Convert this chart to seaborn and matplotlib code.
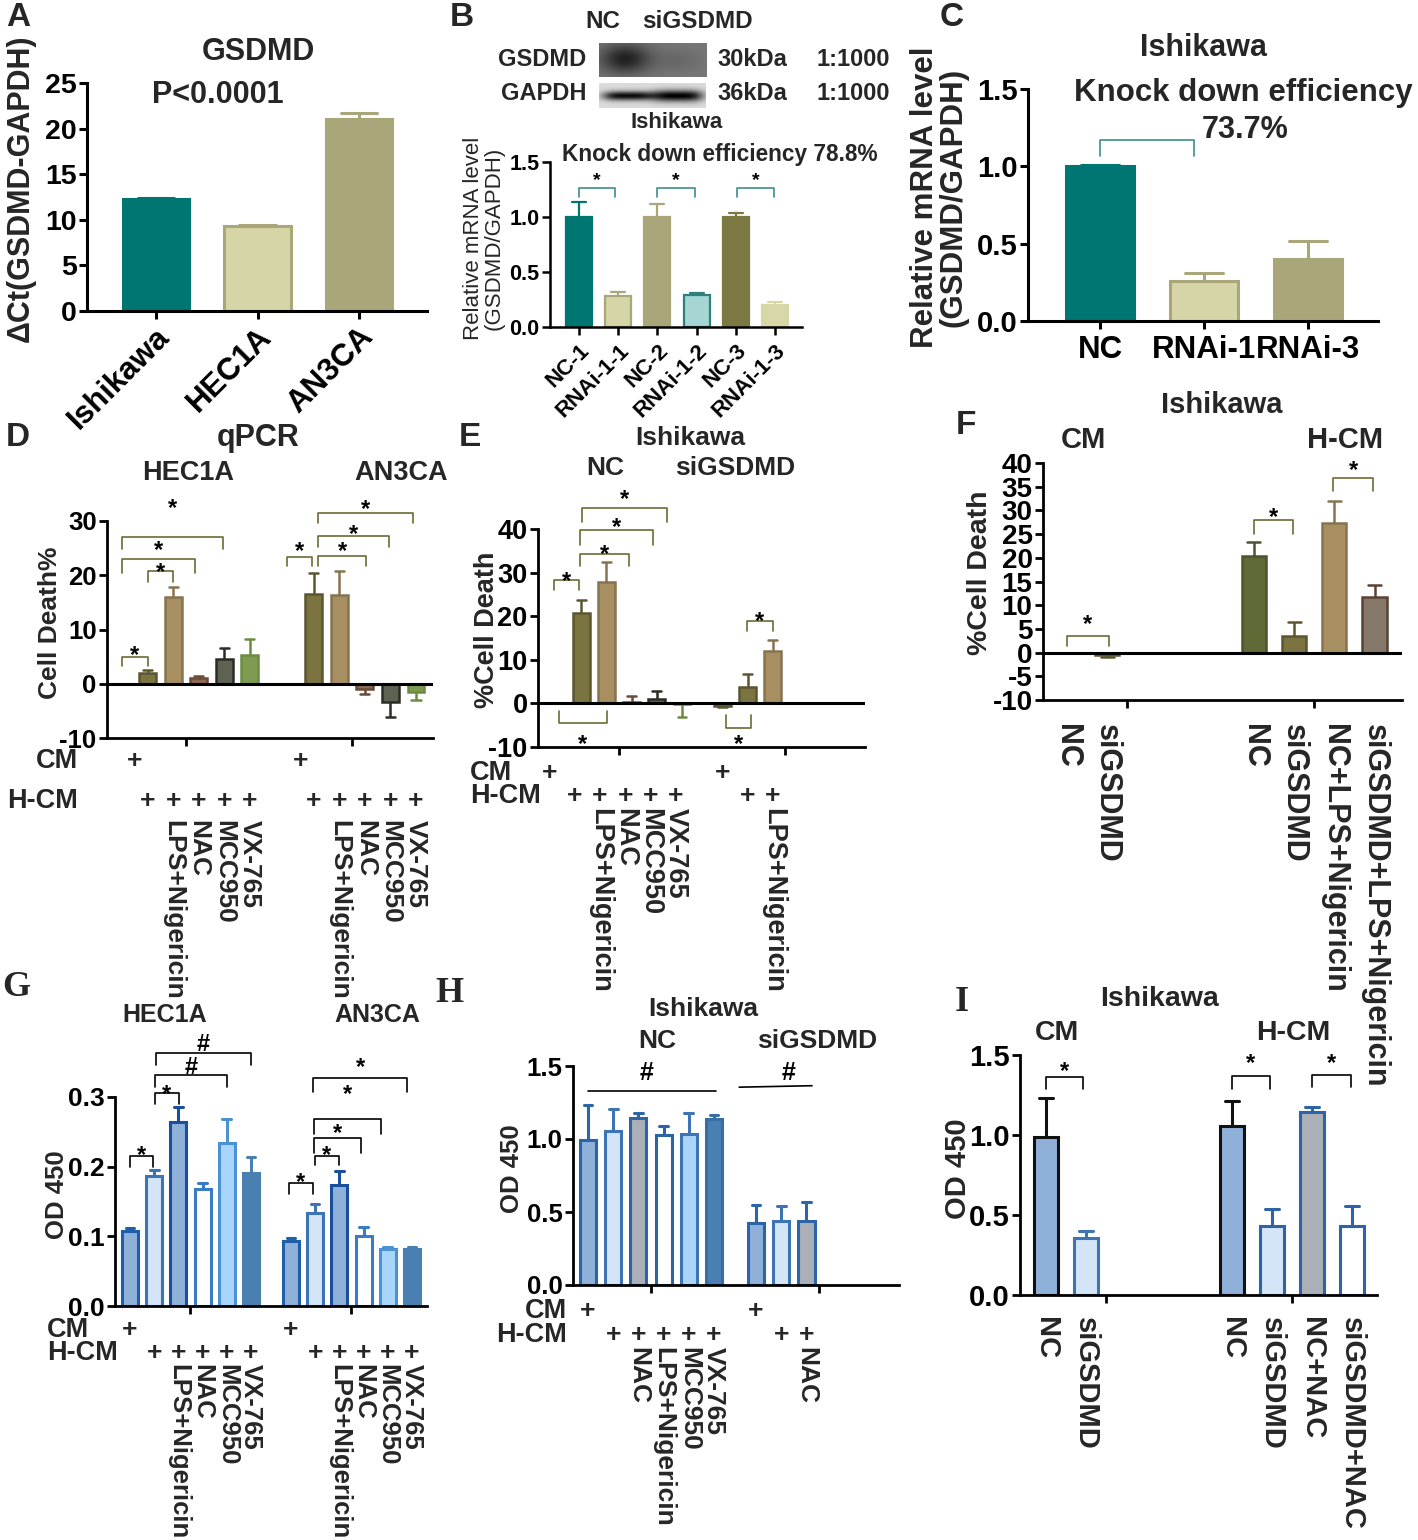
import numpy as np
import pandas as pd
import seaborn as sns
from matplotlib import pyplot as plt
from matplotlib import transforms

sns.set_theme(style="ticks")
plt.rcParams['font.family'] = ['Liberation Sans', 'DejaVu Sans']
plt.rcParams['font.weight'] = 'bold'
plt.rcParams['axes.unicode_minus'] = False

# ---------------- data ----------------
# A
a_cells = ["Ishikawa", "HEC1A", "AN3CA"]
a_ct = [12.3, 9.3, 21.0]
a_sem = [0.12, 0.1, 0.7]

# B
b_samples = ["NC-1", "RNAi-1-1", "NC-2", "RNAi-1-2", "NC-3", "RNAi-1-3"]
b_mrna = [1.0, 0.28, 1.0, 0.29, 1.0, 0.20]
b_sem = [0.14, 0.04, 0.12, 0.015, 0.04, 0.03]

# C
c_samples = ["NC", "RNAi-1", "RNAi-3"]
c_mrna = [1.0, 0.26, 0.40]
c_sem = [0.008, 0.05, 0.12]

# D (qPCR, cell death %)
treatments = ["", "", "LPS+Nigericin", "NAC", "MCC950", "VX-765"]
cm_row = ["+", "", "", "", "", ""]
hcm_row = ["", "+", "+", "+", "+", "+"]
d_hec1a = [0.0, 1.9, 15.9, 1.1, 4.6, 5.3]
d_hec1a_sem = [0.0, 0.7, 1.9, 0.3, 1.9, 2.9]
d_an3ca = [0.0, 16.6, 16.3, -0.95, -3.4, -1.6]
d_an3ca_sem = [0.0, 3.9, 4.5, 0.85, 2.8, 1.4]

# E (Ishikawa, % cell death)
e_nc = [0.0, 20.7, 27.8, 0.4, 0.9, -0.2]
e_nc_sem = [0.0, 3.1, 4.7, 1.3, 1.9, 3.0]
e_si = [-0.6, 3.7, 12.1]
e_si_sem = [0.3, 3.1, 2.4]
e_si_treat = ["", "", "LPS+Nigericin"]
e_si_cm = ["+", "", ""]
e_si_hcm = ["", "+", "+"]

# F
f_cm_groups = ["NC", "siGSDMD"]
f_cm = [0.0, -0.6]
f_cm_sem = [0.0, 0.3]
f_hcm_groups = ["NC", "siGSDMD", "NC+LPS+Nigericin", "siGSDMD+LPS+Nigericin"]
f_hcm = [20.3, 3.5, 27.3, 11.8]
f_hcm_sem = [3.1, 3.0, 4.6, 2.5]

# G (OD 450)
g_hec1a = [0.108, 0.186, 0.264, 0.168, 0.234, 0.191]
g_hec1a_sem = [0.004, 0.009, 0.021, 0.008, 0.035, 0.023]
g_an3ca = [0.093, 0.134, 0.173, 0.100, 0.082, 0.082]
g_an3ca_sem = [0.004, 0.013, 0.021, 0.013, 0.003, 0.002]

# H
h_treat = ["", "", "NAC", "LPS+Nigericin", "MCC950", "VX-765"]
h_nc = [0.993, 1.056, 1.146, 1.024, 1.037, 1.134]
h_nc_sem = [0.24, 0.15, 0.032, 0.066, 0.14, 0.029]
h_si_treat = ["", "", "NAC"]
h_si = [0.427, 0.439, 0.439]
h_si_sem = [0.122, 0.105, 0.127]

# I
i_cm_groups = ["NC", "siGSDMD"]
i_cm = [0.989, 0.354]
i_cm_sem = [0.244, 0.048]
i_hcm_groups = ["NC", "siGSDMD", "NC+NAC", "siGSDMD+NAC"]
i_hcm = [1.057, 0.434, 1.144, 0.434]
i_hcm_sem = [0.153, 0.105, 0.032, 0.125]

# significance brackets: (x1, x2, top, tip, mark_y, mark)
b_brackets = [(0, 0.92, 1.26, 1.18, 1.39, "*"), (2, 2.95, 1.26, 1.18, 1.39, "*"),
              (4.03, 4.97, 1.26, 1.18, 1.39, "*")]
d_brackets = [(0, 1, 4.9, 3.2, 6.5, "*"), (1, 2, 20.7, 18.8, 21.9, "*"),
              (0, 2.85, 23.0, 20.5, 25.9, "*"), (0, 3.94, 27.0, 24.9, 33.6, "*"),
              (6.46, 7.44, 23.4, 21.7, 25.7, "*"), (7.67, 9.54, 23.6, 21.7, 25.7, "*"),
              (7.67, 10.44, 27.2, 25.2, 28.9, "*"), (7.67, 11.37, 31.5, 29.7, 33.5, "*")]
e_brackets = [(-0.08, 0.91, 28.2, 25.9, 29.5, "*"), (0.95, 2.9, 34.2, 31.6, 35.9, "*"),
              (0.95, 3.85, 39.7, 36.3, 41.9, "*"), (1.03, 4.4, 44.9, 41.5, 48.3, "*"),
              (0.12, 2.02, -4.4, -1.7, -7.7, "*"), (7.58, 8.6, 18.8, 16.5, 20.5, "*"),
              (6.75, 7.74, -5.6, -2.7, -7.7, "*")]
f_brackets = [(0, 1.04, 3.5, 1.4, 7.4, "*"), (4.65, 5.62, 28.0, 25.0, 30.1, "*"),
              (6.62, 7.61, 36.9, 34.0, 40.0, "*")]
g_brackets = [(0, 0.95, 0.215, 0.200, 0.227, "*"), (1.03, 2.02, 0.306, 0.290, 0.314, "*"),
              (1.03, 4.0, 0.331, 0.314, 0.345, "#"), (1.07, 5.0, 0.363, 0.346, 0.378, "#"),
              (6.57, 7.56, 0.177, 0.161, 0.1875, "*"), (7.64, 8.64, 0.216, 0.202, 0.227, "*"),
              (7.6, 9.55, 0.241, 0.219, 0.258, "*"), (7.6, 10.37, 0.269, 0.247, 0.314, "*"),
              (7.56, 11.45, 0.327, 0.307, 0.352, "*")]
i_brackets = [(0, 0.93, 1.36, 1.285, 1.44, "*"), (4.65, 5.6, 1.37, 1.29, 1.49, "*"),
              (6.65, 7.63, 1.372, 1.297, 1.49, "*")]

# ---------------- colours ----------------
TEAL = "#007672"
OLIVE_LINE = "#6b6b35"
A_FACE = [TEAL, "#d6d5a8", "#a9a77a"]
A_EDGE = [TEAL, "#a9a77a", "#a9a77a"]
B_FACE = [TEAL, "#d6d5a8", "#a9a77a", "#a5d6d3", "#7b7841", "#d8d7a8"]
B_EDGE = [TEAL, "#a9a77a", "#a9a77a", "#2f7f7c", "#7b7841", "#d8d7a8"]
D_FACE = ["#7b7441", "#7b7441", "#a88f62", "#8d6a52", "#5e6252", "#7f9b52"]
D_EDGE = ["#5b5630", "#5b5630", "#87744f", "#6b4a38", "#2a2d24", "#6c8a42"]
F_FACE = ["#5f6a36", "#7b7441", "#5f6a36", "#7b7441", "#a88f62", "#877969"]
F_EDGE = ["#4b5530", "#5b5630", "#4b5530", "#5b5630", "#87744f", "#5a4232"]
G_FACE = ["#8fb0d9", "#d5e5f8", "#8fb0d9", "#ffffff", "#a9d5fa", "#4a7fb1"]
G_EDGE = ["#1f5ea8", "#3d74b4", "#1b4f9c", "#3a7bc4", "#4b92d4", "#4a7fb1"]
H_FACE = ["#8fb0d9", "#d5e5f8", "#abb0b8", "#ffffff", "#a9d5fa", "#4a7fb1"]
H_EDGE = ["#2d64a8", "#3d74b4", "#2d64a8", "#2d64a8", "#3d74b4", "#3a6ca5"]
I_FACE = ["#8fb0d9", "#d5e5f8", "#8fb0d9", "#d5e5f8", "#abb0b8", "#ffffff"]
I_EDGE = ["#111111", "#3d74b4", "#111111", "#2d64a8", "#2d64a8", "#2d64a8"]
SERIF = ['Liberation Serif', 'DejaVu Serif']

W, H = 1418, 1540
fig = plt.figure(figsize=(W / 100, H / 100), dpi=100)


def fy(y):
    return 1 - y / H


def ftext(x, y, s, fs, **kw):
    kw.setdefault('ha', 'center')
    kw.setdefault('va', 'center')
    return fig.text(x / W, fy(y), s, fontsize=fs, **kw)


def add(l, t, r, b):
    return fig.add_axes([l / W, fy(b), (r - l) / W, (b - t) / H])


def bars(ax, pos, vals, sem, faces, edges, width, lw):
    n0 = len(ax.patches)
    df = pd.DataFrame({'pos': pos, 'val': vals})
    sns.barplot(data=df, x='pos', y='val', native_scale=True, width=width,
                errorbar=None, color='white', linewidth=lw, ax=ax)
    for p, fc, ec in zip(ax.patches[n0:], faces, edges):
        p.set_facecolor(fc)
        p.set_edgecolor(ec)
    half = width * 0.27
    for x, v, e, ec in zip(pos, vals, sem, edges):
        if e <= 0:
            continue
        end = v - e if v < 0 else v + e
        ax.plot([x, x], [v, end], color=ec, lw=lw, solid_capstyle='butt')
        ax.plot([x - half, x + half], [end, end], color=ec, lw=lw)


def finish(ax, l, r, origin, unit, ylim, yticks, ylabs, fs, xticks, lw=2.0):
    ax.set_xlim((l - origin) / unit, (r - origin) / unit)
    ax.set_ylim(*ylim)
    ax.set_yticks(yticks)
    ax.set_yticklabels(ylabs, fontsize=fs, fontweight='bold')
    ax.set_xticks(xticks)
    ax.set_xticklabels([])
    ax.set_xlabel('')
    ax.set_ylabel('')
    sns.despine(ax=ax)
    for s in ('left', 'bottom'):
        ax.spines[s].set_linewidth(lw)
        ax.spines[s].set_color('black')
    ax.tick_params(length=6, width=lw, pad=1.5, color='black', labelcolor='black')
    ax.patch.set_alpha(0)


def mark(ax, x, y, s, fs, color='black'):
    k = 0.58 if s == '*' else 0.36
    tr = transforms.offset_copy(ax.transData, fig=fig, y=-k * fs, units='points')
    ax.text(x, y, s, transform=tr, ha='center', va='baseline', fontsize=fs,
            color=color, clip_on=False)


def brackets(ax, specs, color, fs, lw=1.2):
    for x1, x2, top, tip, my, s in specs:
        ax.plot([x1, x1, x2, x2], [tip, top, top, tip], color=color, lw=lw, clip_on=False)
        mark(ax, (x1 + x2) / 2, my, s, fs)


def rows(ax, xs, cm, hcm, treat, y_cm, y_hcm, y_lab, fs, tfs, dx=0.0, cm_dx=0.0):
    tr = transforms.blended_transform_factory(ax.transData, fig.transFigure)
    for x, c, h, t in zip(xs, cm, hcm, treat):
        if c:
            fig.text(x + dx + cm_dx, fy(y_cm), c, transform=tr, ha='center', va='center', fontsize=fs)
        if h:
            fig.text(x + dx, fy(y_hcm), h, transform=tr, ha='center', va='center', fontsize=fs)
        if t:
            fig.text(x + dx, fy(y_lab), t, transform=tr, rotation=270, ha='center', va='top', fontsize=tfs)


def vlabels(ax, xs, labels, y_top, fs):
    tr = transforms.blended_transform_factory(ax.transData, fig.transFigure)
    for x, t in zip(xs, labels):
        fig.text(x, fy(y_top), t, transform=tr, rotation=270, ha='center', va='top', fontsize=fs)


def blot(l, t, r, b, bg, bands):
    ax = add(l, t, r, b)
    yy, xx = np.mgrid[0:40, 0:120]
    yy = yy / 40.0
    xx = xx / 120.0
    img = np.full(yy.shape, bg)
    for cx, cy, sx, sy, depth, pw in bands:
        img = img - depth * np.exp(-np.abs((xx - cx) / sx) ** pw / 2 - ((yy - cy) / sy) ** 2 / 2)
    ax.imshow(np.clip(img, 0, 1), cmap='gray', vmin=0, vmax=1, aspect='auto', interpolation='bilinear')
    ax.set_axis_off()


def shift_labels(ax, dx_px, dy_px=0):
    for lab in ax.get_xticklabels():
        lab.set_transform(lab.get_transform()
                          + transforms.ScaledTranslation(dx_px / 100, -dy_px / 100, fig.dpi_scale_trans))


DEC = ['0.0', '0.5', '1.0', '1.5']

# ---------------- A ----------------
axA = add(87, 83, 427, 311)
a_pos = np.arange(3)
bars(axA, a_pos, a_ct, a_sem, A_FACE, A_EDGE, 0.66, 2.2)
finish(axA, 87, 427, 156, 101.5, (0, 25), [0, 5, 10, 15, 20, 25],
       ['0', '5', '10', '15', '20', '25'], 20.5, a_pos, lw=2.2)
axA.set_xticklabels(a_cells, rotation=45, ha='right', rotation_mode='anchor', fontsize=22.5)
shift_labels(axA, -1)
ftext(21, 188, "ΔCt(GSDMD-GAPDH)", 22, rotation=90)
ftext(258, 52, "GSDMD", 22)
ftext(218, 95, "P<0.0001", 22)
ftext(18, 17, "A", 24)

# ---------------- B ----------------
blot(599, 43, 707, 77, 0.47, [(0.24, 0.45, 0.16, 0.3, 0.34, 2), (0.72, 0.5, 0.15, 0.25, 0.06, 2)])
blot(599, 83, 706, 108, 0.86, [(0.27, 0.5, 0.2, 0.13, 0.82, 4), (0.73, 0.5, 0.2, 0.16, 0.86, 4)])
ftext(462, 18, "B", 24)
ftext(603, 22, "NC", 17.5)
ftext(697, 22, "siGSDMD", 17.5)
ftext(586, 59, "GSDMD", 17, ha='right')
ftext(586, 93, "GAPDH", 17, ha='right')
ftext(717, 59, "30kDa", 17, ha='left')
ftext(717, 93, "36kDa", 17, ha='left')
ftext(816, 59, "1:1000", 17, ha='left')
ftext(816, 93, "1:1000", 17, ha='left')
ftext(677, 122, "Ishikawa", 16)
ftext(720, 155, "Knock down efficiency 78.8%", 16.3)

axB = add(550, 162, 802, 327)
b_pos = np.arange(6)
bars(axB, b_pos, b_mrna, b_sem, B_FACE, B_EDGE, 0.66, 1.6)
finish(axB, 550, 802, 579, 39.2, (0, 1.5), [0, 0.5, 1.0, 1.5], DEC, 15.5, b_pos, lw=1.8)
axB.set_xticklabels(b_samples, rotation=45, ha='right', rotation_mode='anchor', fontsize=16)
shift_labels(axB, 0, 3)
brackets(axB, b_brackets, "#3d8f8c", 14)
ftext(484, 238, "Relative mRNA level\n(GSDMD/GAPDH)", 16, rotation=90,
      fontweight='normal', linespacing=1.0, multialignment='center')

# ---------------- C ----------------
axC = add(1028, 89, 1378, 321)
c_pos = np.arange(3)
bars(axC, c_pos, c_mrna, c_sem, A_FACE, A_EDGE, 0.66, 2.2)
finish(axC, 1028, 1378, 1100, 104, (0, 1.5), [0, 0.5, 1.0, 1.5], DEC, 21, c_pos, lw=2.2)
axC.set_xticklabels(c_samples, fontsize=22.5)
axC.tick_params(axis='x', pad=4)
axC.plot([0, 0, 0.9, 0.9], [1.07, 1.17, 1.17, 1.07], color="#3d8f8c", lw=1.2, clip_on=False)
ftext(952, 18, "C", 24)
ftext(1204, 48, "Ishikawa", 22)
ftext(1243, 93, "Knock down efficiency", 22.5)
ftext(1245, 130, "73.7%", 22)
ftext(939, 197, "Relative mRNA level\n(GSDMD/GAPDH)", 22.5, rotation=90,
      linespacing=0.95, multialignment='center')

# ---------------- D ----------------
six = np.arange(6)
d_pos = np.r_[six, six + 6.5]
axD = add(107, 521, 433, 738)
bars(axD, d_pos, d_hec1a + d_an3ca, d_hec1a_sem + d_an3ca_sem, D_FACE * 2, D_EDGE * 2, 0.66, 1.8)
axD.axhline(0, color='black', lw=2.2)
finish(axD, 107, 433, 122, 25.57, (-10, 30), [-10, 0, 10, 20, 30],
       ['-10', '0', '10', '20', '30'], 18.5, [2.5, 9.0])
brackets(axD, d_brackets, OLIVE_LINE, 17)
rows(axD, d_pos, cm_row * 2, hcm_row * 2, treatments * 2, 761, 801, 820, 19, 19, cm_dx=0.5)
ftext(78, 761, "CM", 19.5, ha='right')
ftext(78, 801, "H-CM", 19.5, ha='right')
ftext(50, 623, "Cell Death%", 19, rotation=90)
ftext(18, 438, "D", 24)
ftext(258, 438, "qPCR", 22)
ftext(188, 473, "HEC1A", 19.5)
ftext(401, 473, "AN3CA", 19.5)

# ---------------- E ----------------
e_pos = np.r_[six, np.arange(3) + 6.6]
axE = add(538, 529, 865, 747)
bars(axE, e_pos, e_nc + e_si, e_nc_sem + e_si_sem, D_FACE + D_FACE[:3], D_EDGE + D_EDGE[:3], 0.66, 1.8)
axE.axhline(0, color='black', lw=2.2)
finish(axE, 538, 865, 556, 25.2, (-10, 40), [-10, 0, 10, 20, 30, 40],
       ['-10', '0', '10', '20', '30', '40'], 19.5, [2.5, 9.1])
brackets(axE, e_brackets, OLIVE_LINE, 17)
rows(axE, e_pos[:6], cm_row, hcm_row, treatments, 773, 796, 808, 19, 19.5, dx=-0.25)
rows(axE, e_pos[6:], e_si_cm, e_si_hcm, e_si_treat, 773, 796, 808, 19, 19.5)
ftext(470, 773, "CM", 19.5, ha='left')
ftext(470, 796, "H-CM", 19.5, ha='left')
ftext(487, 630, "%Cell Death", 19.5, rotation=90)
ftext(470, 438, "E", 24)
ftext(690, 438, "Ishikawa", 19)
ftext(605, 468, "NC", 19)
ftext(735, 468, "siGSDMD", 19)

# ---------------- F ----------------
f_pos = np.r_[np.arange(2), np.arange(4) + 4.65]
axF = add(1043, 463, 1402, 700)
bars(axF, f_pos, f_cm + f_hcm, f_cm_sem + f_hcm_sem, F_FACE, F_EDGE, 0.6, 1.8)
axF.axhline(0, color='black', lw=2.2)
finish(axF, 1043, 1402, 1067, 40.2, (-10, 40), list(range(-10, 41, 5)),
       [str(v) for v in range(-10, 41, 5)], 20, [1.5, 6.15])
brackets(axF, f_brackets, OLIVE_LINE, 17)
vlabels(axF, f_pos, f_cm_groups + f_hcm_groups, 724, 22)
ftext(980, 573, "%Cell Death", 20.5, rotation=90)
ftext(966, 425, "F", 24)
ftext(1222, 405, "Ishikawa", 21)
ftext(1083, 440, "CM", 21)
ftext(1345, 440, "H-CM", 21)

# ---------------- G ----------------
g_pos = np.r_[six, six + 6.65]
axG = add(115, 1097, 427, 1306)
bars(axG, g_pos, g_hec1a + g_an3ca, g_hec1a_sem + g_an3ca_sem, G_FACE * 2, G_EDGE * 2, 0.66, 2.2)
finish(axG, 115, 427, 130, 24.2, (0, 0.3), [0, 0.1, 0.2, 0.3],
       ['0.0', '0.1', '0.2', '0.3'], 19, [2.5, 9.15])
brackets(axG, g_brackets, 'black', 17)
rows(axG, g_pos, cm_row * 2, hcm_row * 2, treatments * 2, 1330, 1353, 1364, 19, 18.5)
ftext(47, 1330, "CM", 19.5, ha='left')
ftext(47, 1353, "H-CM", 19.5, ha='left')
ftext(57, 1195, "OD 450", 18.5, rotation=90)
ftext(16, 987, "G", 26, family=SERIF)
ftext(165, 1015, "HEC1A", 18)
ftext(377, 1015, "AN3CA", 18)

# ---------------- H ----------------
h_pos = np.r_[six, np.arange(3) + 6.67]
axH = add(573, 1066, 899, 1285)
bars(axH, h_pos, h_nc + h_si, h_nc_sem + h_si_sem, H_FACE + H_FACE[:3], H_EDGE + H_EDGE[:3], 0.64, 2.2)
finish(axH, 573, 899, 588, 25.2, (0, 1.5), [0, 0.5, 1.0, 1.5], DEC, 18.5, [2.5, 9.17])
axH.plot([0, 5.08], [1.329, 1.329], color='black', lw=1.2, clip_on=False)
axH.plot([6.0, 8.89], [1.355, 1.365], color='black', lw=1.2, clip_on=False)
mark(axH, 2.34, 1.463, "#", 18)
mark(axH, 7.94, 1.463, "#", 18)
rows(axH, h_pos[:6], cm_row, hcm_row, h_treat, 1311, 1335, 1347, 19, 19)
rows(axH, h_pos[6:], e_si_cm, e_si_hcm, h_si_treat, 1311, 1335, 1347, 19, 19)
ftext(567, 1311, "CM", 19.5, ha='right')
ftext(567, 1335, "H-CM", 19.5, ha='right')
ftext(512, 1169, "OD 450", 18.5, rotation=90)
ftext(449, 993, "H", 26, family=SERIF)
ftext(703, 1009, "Ishikawa", 19)
ftext(657, 1041, "NC", 19)
ftext(817, 1041, "siGSDMD", 19)

# ---------------- I ----------------
i_pos = np.r_[np.arange(2), np.arange(4) + 4.65]
axI = add(1020, 1055, 1377, 1295)
bars(axI, i_pos, i_cm + i_hcm, i_cm_sem + i_hcm_sem, I_FACE, I_EDGE, 0.62, 2.2)
finish(axI, 1020, 1377, 1046, 40, (0, 1.5), [0, 0.5, 1.0, 1.5], DEC, 21, [1.5, 6.15])
brackets(axI, i_brackets, 'black', 17)
vlabels(axI, i_pos, i_cm_groups + i_hcm_groups, 1317, 21)
ftext(958, 1169, "OD 450", 21, rotation=90)
ftext(962, 1002, "I", 26, family=SERIF)
ftext(1159, 999, "Ishikawa", 20.5)
ftext(1057, 1033, "CM", 20.5)
ftext(1293, 1033, "H-CM", 20.5)

fig.savefig("out.png", dpi=100)
plt.close(fig)
